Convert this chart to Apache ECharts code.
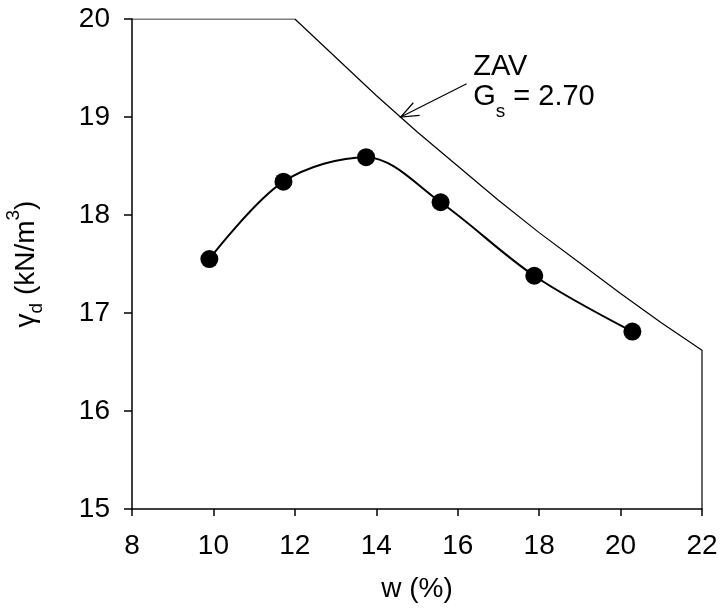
<!DOCTYPE html>
<html>
<head>
<meta charset="utf-8">
<script src="https://cdn.jsdelivr.net/npm/echarts@6/dist/echarts.min.js"></script>
<style>
html,body{margin:0;padding:0;background:#fff}
#main{width:721px;height:608px}
</style>
</head>
<body>
<div id="main"></div>
<script>
// 击实试验点 w(%) - γd(kN/m3)
const wData = [9.9, 11.72, 13.75, 15.58, 17.88, 20.29]
const gammaData = [17.55, 18.34, 18.59, 18.13, 17.38, 16.81]

// ZAV 线 (Gs = 2.70)，读图得到
const zavW = [8, 12, 13, 14, 15, 16, 17, 18, 19, 20, 21, 22, 22]
const zavGamma = [20, 20, 19.61, 19.22, 18.85, 18.5, 18.15, 17.82, 17.51, 17.2, 16.9, 16.62, 15]

// 箭头 (尾 -> 尖)
const arrowW = [16.22, 14.6]
const arrowGamma = [19.34, 19.0]

// 标注位置
const noteW = 16.38
const noteGamma = 19.66

const xRange = [8, 22, 2]
const yRange = [15, 20, 1]

const font = 'Liberation Sans, Arial, sans-serif'

function zip(a, b) {
    return a.map(function (v, i) { return [v, b[i]] })
}

let myChart = echarts.init(document.getElementById('main'), null, {renderer: 'canvas'})

let option = {
    backgroundColor: '#fff',
    animation: false,
    grid: {left: 132, right: 19, top: 19, bottom: 99, containLabel: false, outerBoundsMode: 'none'},
    textStyle: {fontFamily: font, color: '#000'},
    xAxis: {
        type: 'value',
        min: xRange[0],
        max: xRange[1],
        interval: xRange[2],
        name: 'w (%)',
        nameLocation: 'middle',
        nameGap: 66,
        nameTextStyle: {fontSize: 28, color: '#000', fontFamily: font},
        axisLine: {lineStyle: {color: '#000', width: 1.5}},
        axisTick: {length: 7, lineStyle: {color: '#000', width: 1.5}},
        axisLabel: {fontSize: 28, color: '#000', margin: 23, fontFamily: font},
        splitLine: {show: false}
    },
    yAxis: {
        type: 'value',
        min: yRange[0],
        max: yRange[1],
        interval: yRange[2],
        name: '{n|γ}{sub|d}{n| (kN/m}{sup|3}{n|)}',
        nameLocation: 'middle',
        nameGap: 84,
        nameRotate: 90,
        nameTextStyle: {
            fontFamily: font,
            color: '#000',
            rich: {
                n: {fontSize: 28, lineHeight: 44, fontFamily: font, color: '#000'},
                sub: {fontSize: 19, lineHeight: 19, verticalAlign: 'top', padding: [23, 0, 0, 0], fontFamily: font, color: '#000'},
                sup: {fontSize: 19, lineHeight: 19, verticalAlign: 'top', fontFamily: font, color: '#000'}
            }
        },
        axisLine: {lineStyle: {color: '#000', width: 1.5}},
        axisTick: {length: 8, lineStyle: {color: '#000', width: 1.5}},
        axisLabel: {fontSize: 28, color: '#000', margin: 22, fontFamily: font},
        splitLine: {show: false}
    },
    series: [
        {
            name: 'ZAV',
            type: 'line',
            data: zip(zavW, zavGamma),
            showSymbol: false,
            symbol: 'none',
            lineStyle: {color: '#000', width: 1.2},
            silent: true,
            z: 2
        },
        {
            name: 'arrow',
            type: 'line',
            data: zip(arrowW, arrowGamma),
            symbol: 'none',
            lineStyle: {color: '#000', width: 1.2},
            silent: true
        },
        {
            name: 'compaction',
            type: 'line',
            data: zip(wData, gammaData),
            smooth: 0.33,
            symbol: 'circle',
            symbolSize: 18,
            itemStyle: {color: '#000'},
            lineStyle: {color: '#000', width: 2},
            z: 3
        }
    ]
}

myChart.setOption(option)

// 箭头头部与文字标注
let tip = myChart.convertToPixel({gridIndex: 0}, [arrowW[1], arrowGamma[1]])
let tail = myChart.convertToPixel({gridIndex: 0}, [arrowW[0], arrowGamma[0]])
let ang = Math.atan2(tail[1] - tip[1], tail[0] - tip[0])
let len = 19, spread = 0.38
let b1 = [tip[0] + len * Math.cos(ang - spread), tip[1] + len * Math.sin(ang - spread)]
let b2 = [tip[0] + len * Math.cos(ang + spread), tip[1] + len * Math.sin(ang + spread)]
let note = myChart.convertToPixel({gridIndex: 0}, [noteW, noteGamma])

myChart.setOption({
    graphic: [
        {
            type: 'polyline',
            shape: {points: [b1, tip, b2]},
            style: {stroke: '#000', lineWidth: 1.2, fill: null},
            silent: true
        },
        {
            type: 'text',
            x: note[0],
            y: note[1],
            style: {
                text: '{n|ZAV}\n{n|G}{sub|s}{n| = 2.70}',
                fontFamily: font,
                rich: {
                    n: {fontSize: 29, lineHeight: 30, fontFamily: font, fill: '#000'},
                    sub: {fontSize: 19, lineHeight: 19, verticalAlign: 'top', padding: [20, 0, 0, 0], fontFamily: font, fill: '#000'}
                }
            },
            silent: true
        }
    ]
})
</script>
</body>
</html>
